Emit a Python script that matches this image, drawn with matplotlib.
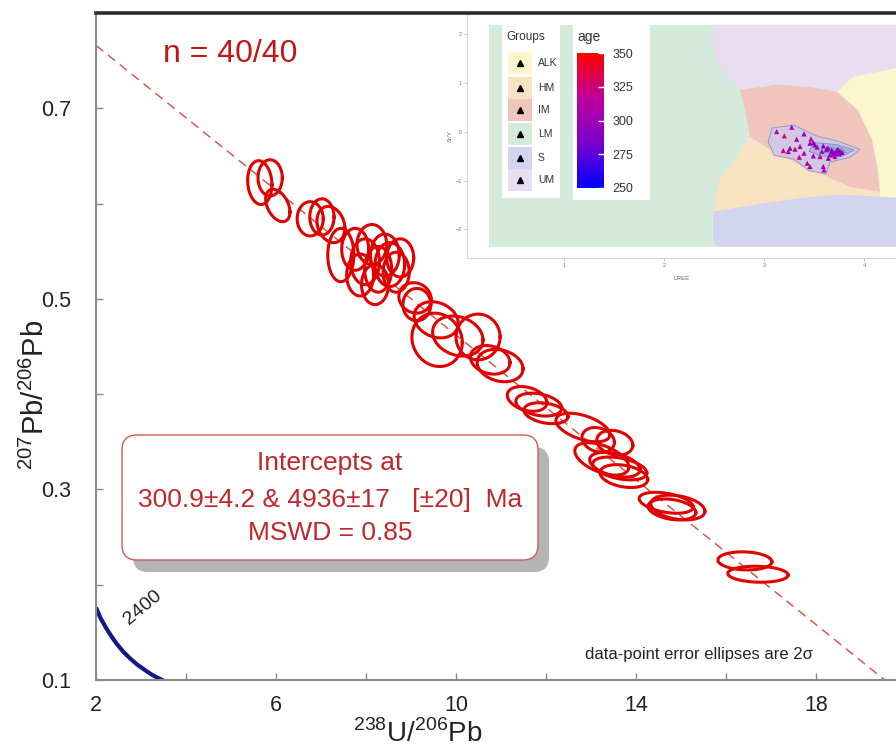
import numpy as np
import matplotlib
matplotlib.use('Agg')
import matplotlib.pyplot as plt
from matplotlib.patches import FancyBboxPatch, Polygon, Rectangle
from matplotlib.colors import LinearSegmentedColormap, Normalize
from matplotlib.cm import ScalarMappable

plt.rcParams['font.family'] = ['Liberation Sans', 'DejaVu Sans']
plt.rcParams['mathtext.fontset'] = 'custom'
plt.rcParams['mathtext.rm'] = 'Liberation Sans'

# ---- Tera-Wasserburg data: 2-sigma error ellipses (centre, half extents, rho)
ell_x = [5.64, 5.87, 6.04, 6.76, 7.02, 7.22, 7.44, 7.76, 7.98, 8.13,
         8.27, 8.42, 8.53, 7.87, 8.20, 8.76, 8.67, 9.09, 9.13, 9.56,
         9.58, 10.04, 10.49, 10.76, 10.98, 11.58, 11.84, 12.00, 12.82, 13.16,
         13.53, 13.24, 13.53, 13.64, 13.73, 14.67, 14.93, 14.80, 16.42, 16.71]
ell_y = [0.622, 0.627, 0.598, 0.584, 0.586, 0.578, 0.546, 0.552, 0.539, 0.557,
         0.531, 0.546, 0.536, 0.525, 0.515, 0.543, 0.528, 0.501, 0.494, 0.478,
         0.457, 0.461, 0.460, 0.436, 0.430, 0.395, 0.389, 0.380, 0.365, 0.352,
         0.349, 0.332, 0.326, 0.322, 0.314, 0.286, 0.281, 0.279, 0.225, 0.211]
ell_sx = [0.27, 0.27, 0.27, 0.29, 0.27, 0.31, 0.29, 0.30, 0.32, 0.33,
          0.30, 0.32, 0.33, 0.30, 0.30, 0.30, 0.29, 0.36, 0.31, 0.49,
          0.56, 0.56, 0.49, 0.44, 0.51, 0.44, 0.51, 0.49, 0.60, 0.36,
          0.40, 0.60, 0.56, 0.60, 0.53, 0.60, 0.60, 0.53, 0.60, 0.67]
ell_sy = [0.023, 0.019, 0.017, 0.018, 0.019, 0.019, 0.028, 0.022, 0.024, 0.021,
          0.024, 0.022, 0.023, 0.022, 0.021, 0.020, 0.021, 0.016, 0.017, 0.019,
          0.028, 0.021, 0.024, 0.015, 0.017, 0.013, 0.012, 0.011, 0.015, 0.013,
          0.013, 0.017, 0.013, 0.012, 0.012, 0.011, 0.013, 0.011, 0.0095, 0.0084]
ell_rho = [-0.1, 0.0, -0.4, 0.0, 0.0, -0.2, 0.0, 0.0, 0.0, 0.0,
           0.0, 0.0, 0.0, 0.0, 0.0, 0.0, 0.0, -0.1, 0.0, -0.2,
           -0.1, -0.2, 0.0, -0.2, -0.2, -0.3, -0.3, -0.3, -0.5, -0.2,
           -0.2, -0.5, -0.4, -0.4, -0.3, -0.4, -0.3, -0.3, -0.1, -0.1]

# regression (discordia) line and concordia curve
line_x = [2.0, 19.53]
line_y = [0.766, 0.100]
conc_x = [2.00, 2.10, 2.22, 2.34, 2.46, 2.60, 2.75, 2.92, 3.10, 3.26, 3.43, 3.60]
conc_y = [0.176, 0.165, 0.155, 0.146, 0.138, 0.130, 0.123, 0.116, 0.110, 0.105, 0.101, 0.097]

x_major = [2, 6, 10, 14, 18]
x_minor = [4, 8, 12, 16]
y_major = [0.1, 0.3, 0.5, 0.7]
y_minor = [0.2, 0.4, 0.6]

# ---- inset (LREE vs Sr/Y classification)
groups = ['ALK', 'HM', 'IM', 'LM', 'S', 'UM']
group_colors = ['#fbf6cd', '#f8e2c2', '#efc5be', '#d4ebdc', '#d3d4ef', '#e8ddf1']
lm_box = [(0.25, -2.36), (4.32, -2.36), (4.32, 2.20), (0.25, 2.20)]
um_poly = [(2.49, 2.20), (2.49, 1.68), (2.63, 1.13), (2.76, 0.86), (3.13, 0.97),
           (3.46, 0.92), (3.73, 0.82), (3.89, 1.13), (4.32, 1.31), (4.32, 2.20)]
im_poly = [(2.76, 0.86), (3.13, 0.97), (3.46, 0.92), (3.73, 0.82), (3.94, 0.45),
           (4.08, -0.16), (4.14, -0.78), (4.16, -1.23), (3.86, -1.13), (3.63, -0.92),
           (3.36, -0.68), (3.06, -0.37), (2.86, -0.10), (2.81, 0.45)]
hm_poly = [(2.86, -0.10), (3.06, -0.37), (3.36, -0.68), (3.63, -0.92), (3.86, -1.13),
           (4.16, -1.23), (4.16, -1.33), (3.76, -1.29), (3.36, -1.36), (2.96, -1.48),
           (2.49, -1.64), (2.55, -1.00), (2.70, -0.60)]
s_poly = [(2.49, -1.64), (2.96, -1.48), (3.36, -1.36), (3.76, -1.29), (4.16, -1.33),
          (4.32, -1.35), (4.32, -2.36), (2.52, -2.36), (2.49, -2.20)]
alk_poly = [(3.73, 0.82), (3.89, 1.13), (4.32, 1.31), (4.32, -1.35), (4.16, -1.33),
            (4.16, -1.23), (4.14, -0.78), (4.08, -0.16), (3.94, 0.45)]
dens_outer = [(3.08, 0.08), (3.30, 0.14), (3.52, -0.08), (3.75, -0.20), (3.96, -0.36),
              (3.86, -0.52), (3.66, -0.62), (3.62, -0.86), (3.45, -0.80), (3.30, -0.56),
              (3.10, -0.48), (3.04, -0.20)]
dens_inner = [(3.50, -0.22), (3.72, -0.26), (3.90, -0.37), (3.78, -0.50), (3.58, -0.50),
              (3.45, -0.40)]
dens_core = [(3.62, -0.32), (3.78, -0.34), (3.82, -0.42), (3.70, -0.46), (3.60, -0.42)]
pt_x = [3.127, 3.277, 3.203, 3.327, 3.40, 3.47, 3.493, 3.26, 3.193, 3.31,
        3.40, 3.46, 3.51, 3.593, 3.627, 3.677, 3.70, 3.727, 3.753, 3.71,
        3.66, 3.56, 3.493, 3.353, 3.433, 3.46, 3.593, 3.60, 3.243, 3.76,
        3.643, 3.68, 3.72, 3.74, 3.36, 3.53, 3.69, 3.78, 3.64, 3.58]
pt_y = [0.006, 0.096, -0.082, -0.151, -0.041, -0.144, -0.219, -0.335, -0.383, -0.356,
        -0.438, -0.233, -0.267, -0.288, -0.356, -0.370, -0.424, -0.383, -0.452, -0.506,
        -0.472, -0.506, -0.493, -0.520, -0.644, -0.712, -0.712, -0.780, -0.404, -0.404,
        -0.541, -0.40, -0.44, -0.36, -0.30, -0.31, -0.47, -0.42, -0.33, -0.40]
pt_age = [310, 300, 320, 305, 295, 315, 290, 300, 325, 310,
          305, 300, 295, 290, 285, 300, 295, 290, 305, 310,
          300, 315, 300, 320, 310, 305, 300, 315, 305, 295,
          290, 285, 300, 290, 310, 295, 300, 285, 295, 305]
age_ticks = [250, 275, 300, 325, 350]

W, H = 896, 747
fig = plt.figure(figsize=(W / 100, H / 100), dpi=100)


def px_rect(x0, y0, x1, y1):
    return [x0 / W, 1 - y1 / H, (x1 - x0) / W, (y1 - y0) / H]


# ---------------- main concordia axes
ax = fig.add_axes(px_rect(96, 13, 906, 680))
ax.set_xlim(2, 20)
ax.set_ylim(0.1, 0.8)

ax.plot(line_x, line_y, color='#d45a5a', lw=1.1, ls=(0, (6, 4)), zorder=2)
ax.plot(conc_x, conc_y, color='#16168a', lw=3, solid_capstyle='butt', zorder=2)

t = np.linspace(0, 2 * np.pi, 140)
for cx, cy, sx, sy, r in zip(ell_x, ell_y, ell_sx, ell_sy, ell_rho):
    ex = cx + sx * np.cos(t)
    ey = cy + sy * (r * np.cos(t) + np.sqrt(1 - r * r) * np.sin(t))
    ax.plot(ex, ey, color='#e00000', lw=2.2, zorder=3)

ax.set_xticks(x_major)
ax.set_xticks(x_minor, minor=True)
ax.set_yticks(y_major)
ax.set_yticks(y_minor, minor=True)
ax.set_xticklabels([str(v) for v in x_major])
ax.set_yticklabels([str(v) for v in y_major])
ax.tick_params(which='both', direction='in', length=5, width=1, color='#8a8a8a')
ax.tick_params(axis='x', pad=11, labelsize=15.5, labelcolor='#222222')
ax.tick_params(axis='y', pad=18, labelsize=15.5, labelcolor='#222222')
for side in ['left', 'bottom']:
    ax.spines[side].set_color('#8a8a8a')
    ax.spines[side].set_linewidth(1.5)
ax.spines['top'].set_color('#2a2a2a')
ax.spines['top'].set_linewidth(2.6)
ax.spines['right'].set_visible(False)

fig.text(418 / W, 1 - 742 / H, r'$^{\mathregular{238}}$U/$^{\mathregular{206}}$Pb',
         ha='center', va='baseline', fontsize=20, color='#222222')
fig.text(35 / W, 1 - 395 / H, r'$^{\mathregular{207}}$Pb/$^{\mathregular{206}}$Pb',
         ha='center', va='center', rotation=90, fontsize=21, color='#222222')

# ---------------- inset
ins = fig.add_axes(px_rect(467, 15, 896, 258))
ins.set_xlim(0.03, 4.32)
ins.set_ylim(-2.59, 2.40)
ins.add_patch(Polygon(lm_box, closed=True, fc=group_colors[3], ec='none'))
for poly, col in [(um_poly, group_colors[5]), (im_poly, group_colors[2]),
                  (hm_poly, group_colors[1]), (s_poly, group_colors[4]),
                  (alk_poly, group_colors[0])]:
    ins.add_patch(Polygon(poly, closed=True, fc=col, ec='none'))
ins.add_patch(Polygon(dens_outer, closed=True, fc='#cfc8ea', ec='#7d88c4', lw=0.6, alpha=0.85))
ins.add_patch(Polygon(dens_inner, closed=True, fc='#b9b0e2', ec='#7d88c4', lw=0.6))
ins.add_patch(Polygon(dens_core, closed=True, fc='#a69ad8', ec='#7d88c4', lw=0.6))

cmap = LinearSegmentedColormap.from_list('age', ['#0000ff', '#7a00d0', '#c0009a', '#ff0000'])
norm = Normalize(250, 350)
ins.scatter(pt_x, pt_y, c=pt_age, cmap=cmap, norm=norm, marker='^', s=14,
            edgecolors='none', zorder=5)

ins.set_xticks([1, 2, 3, 4])
ins.set_yticks([-2, -1, 0, 1, 2])
ins.tick_params(length=2, width=0.5, color='#aaaaaa', labelsize=4, labelcolor='#777777', pad=1.5)
for side in ['top', 'right']:
    ins.spines[side].set_visible(False)
for side in ['left', 'bottom']:
    ins.spines[side].set_color('#cccccc')
    ins.spines[side].set_linewidth(0.6)
ins.set_xlabel('LREE', fontsize=4.5, color='#666666', labelpad=6)
ins.set_ylabel('Sr/Y', fontsize=4.5, color='#666666', labelpad=2)

# ---------------- overlay in pixel coordinates (boxes, annotations, inset legends)
ov = fig.add_axes([0, 0, 1, 1])
ov.set_xlim(0, W)
ov.set_ylim(H, 0)
ov.axis('off')
ov.patch.set_alpha(0)

ov.text(230, 54, 'n = 40/40', ha='center', va='center', fontsize=23, color='#c01818')

ov.add_patch(FancyBboxPatch((133, 447), 416, 125, boxstyle='round,pad=0,rounding_size=15',
                            fc='#b4b4b4', ec='none'))
ov.add_patch(FancyBboxPatch((122, 435), 416, 125, boxstyle='round,pad=0,rounding_size=15',
                            fc='white', ec='#cf5a5a', lw=1))
box_lines = ['Intercepts at', '300.9\u00b14.2 & 4936\u00b117   [\u00b120]  Ma', 'MSWD = 0.85']
for yy, s in zip([463, 500, 533], box_lines):
    ov.text(330, yy, s, ha='center', va='center', fontsize=19, color='#c0282d')

ov.text(699, 655, 'data-point error ellipses are 2\u03c3', ha='center', va='center',
        fontsize=12, color='#222222')
ov.text(143, 608, '2400', ha='center', va='center', rotation=40, fontsize=14, color='#222222')

# groups legend
ov.add_patch(Rectangle((502, 25), 58, 173, fc='white', ec='none'))
ov.text(506, 37, 'Groups', ha='left', va='center', fontsize=8.5, color='#333333')
row_y = [63, 88, 110, 134, 158, 180]
for yy, g, col in zip(row_y, groups, group_colors):
    ov.add_patch(Rectangle((508, yy - 11), 24, 22, fc=col, ec='none'))
    ov.plot([520], [yy], marker='^', color='black', ms=4, ls='none')
    ov.text(538, yy, g, ha='left', va='center', fontsize=7.5, color='#333333')

# age colourbar
ov.add_patch(Rectangle((573, 25), 77, 175, fc='white', ec='none'))
ov.text(577, 37, 'age', ha='left', va='center', fontsize=10, color='#333333')
cax = fig.add_axes(px_rect(577, 53, 604, 188))
cb = fig.colorbar(ScalarMappable(norm=norm, cmap=cmap), cax=cax, ticks=age_ticks)
cb.outline.set_visible(False)
cax.tick_params(length=4, width=1, color='white', direction='in', labelsize=9,
                labelcolor='#333333', pad=6)

fig.savefig('out.png', dpi=100)
